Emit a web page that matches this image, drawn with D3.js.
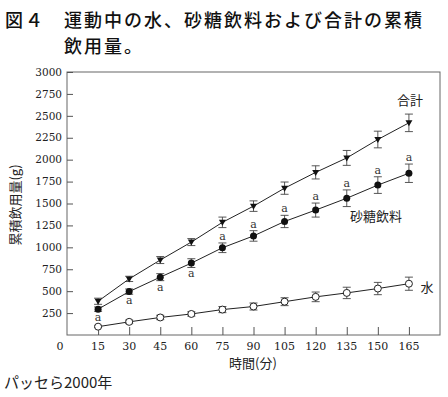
<!DOCTYPE html>
<html lang="ja">
<head>
  <meta charset="UTF-8">
  <title>図4 累積飲用量</title>
  <script src="https://d3js.org/d3.v7.min.js"></script>
  <style>
    body { margin: 0; background: #fff; }
    svg { display: block; }
  </style>
</head>
<body>
  <div id="chart"></div>

  <script>
    // 時間(分)
    const times = [15, 30, 45, 60, 75, 90, 105, 120, 135, 150, 165];

    // 累積飲用量 (g): mean and error bar half-width
    const totalMean  = [385, 640, 855, 1060, 1285, 1470, 1675, 1855, 2020, 2230, 2420];
    const totalErr   = [35, 30, 40, 40, 60, 60, 70, 75, 85, 95, 100];
    const sugarMean  = [295, 495, 660, 820, 995, 1130, 1295, 1425, 1560, 1710, 1845];
    const sugarErr   = [25, 30, 40, 50, 55, 60, 70, 80, 95, 95, 105];
    const waterMean  = [95, 150, 200, 240, 290, 325, 380, 435, 480, 530, 585];
    const waterErr   = [10, 20, 25, 25, 35, 40, 45, 55, 65, 70, 75];

    // "a" 有意差マーク: below the point for early times, above for later
    const markBelow = [true, true, true, true, false, false, false, false, false, false, false];

    const yTicks = [250, 500, 750, 1000, 1250, 1500, 1750, 2000, 2250, 2500, 2750, 3000];
    const xTicks = [0].concat(times);

    const width = 448, height = 397;
    const svg = d3.select('#chart')
      .append('svg')
      .attr('width', width)
      .attr('height', height);

    // Title (18px glyphs spaced out to the reference's 20px pitch)
    const sans = '"Noto Sans CJK JP", "Noto Sans", sans-serif';
    const titleLines = [
      { x: 5, y: 27, text: '図４' },
      { x: 64, y: 27, text: '運動中の水、砂糖飲料および合計の累積' },
      { x: 64, y: 53, text: '飲用量。' }
    ];
    svg.append('g').selectAll('text')
      .data(titleLines)
      .join('text')
      .attr('x', d => d.x).attr('y', d => d.y)
      .attr('font-family', sans)
      .attr('font-size', '18px')
      .attr('letter-spacing', '2px')
      .attr('font-weight', 500)
      .attr('fill', '#111')
      .text(d => d.text);

    // Plot area
    const plotL = 67, plotR = 440, plotT = 72, plotB = 335;
    const x = d3.scaleLinear().domain([0, 180]).range([plotL, plotR]);
    const y = d3.scaleLinear().domain([0, 3000]).range([plotB, plotT]);

    const serif = '"DejaVu Serif", "Liberation Serif", serif';

    // Frame
    svg.append('rect')
      .attr('x', plotL).attr('y', plotT)
      .attr('width', plotR - plotL).attr('height', plotB - plotT)
      .attr('fill', 'none')
      .attr('stroke', '#666')
      .attr('stroke-width', 1);

    // Y axis (ticks point inward)
    const yAxis = svg.append('g')
      .attr('transform', `translate(${plotL},0)`)
      .call(d3.axisRight(y).tickValues(yTicks).tickSize(6).tickFormat(''));
    yAxis.select('.domain').remove();
    yAxis.selectAll('line').attr('stroke', '#555');

    svg.append('g').selectAll('text')
      .data(yTicks)
      .join('text')
      .attr('x', plotL - 5)
      .attr('y', d => y(d))
      .attr('dy', '0.35em')
      .attr('text-anchor', 'end')
      .attr('font-family', serif)
      .attr('font-size', '10.5px')
      .attr('fill', '#222')
      .text(d => d);

    // X axis (ticks point inward)
    const xAxis = svg.append('g')
      .attr('transform', `translate(0,${plotB})`)
      .call(d3.axisTop(x).tickValues(times).tickSize(8).tickFormat(''));
    xAxis.select('.domain').remove();
    xAxis.selectAll('line').attr('stroke', '#555');

    svg.append('g').selectAll('text')
      .data(xTicks)
      .join('text')
      .attr('x', d => d === 0 ? x(d) - 7 : x(d))
      .attr('y', plotB + 15)
      .attr('text-anchor', 'middle')
      .attr('font-family', serif)
      .attr('font-size', '11px')
      .attr('fill', '#222')
      .text(d => d);

    // Axis titles
    svg.append('text')
      .attr('transform', `translate(20,205) rotate(-90)`)
      .attr('text-anchor', 'middle')
      .attr('font-family', sans)
      .attr('font-size', '13px')
      .attr('fill', '#222')
      .text('累積飲用量(g)');

    svg.append('text')
      .attr('x', 253).attr('y', 368)
      .attr('text-anchor', 'middle')
      .attr('font-family', sans)
      .attr('font-size', '13px')
      .attr('fill', '#222')
      .text('時間(分)');

    // Series
    const series = [
      { name: 'total', mean: totalMean, err: totalErr },
      { name: 'sugar', mean: sugarMean, err: sugarErr },
      { name: 'water', mean: waterMean, err: waterErr }
    ];

    const line = d3.line().x(d => x(d.t)).y(d => y(d.v));

    series.forEach(s => {
      const pts = times.map((t, i) => ({ t: t, v: s.mean[i], e: s.err[i], i: i }));
      const g = svg.append('g');

      // error bars
      pts.forEach(p => {
        g.append('line')
          .attr('x1', x(p.t)).attr('x2', x(p.t))
          .attr('y1', y(p.v - p.e)).attr('y2', y(p.v + p.e))
          .attr('stroke', '#444').attr('stroke-width', 0.9);
        [p.v - p.e, p.v + p.e].forEach(v => {
          g.append('line')
            .attr('x1', x(p.t) - 4).attr('x2', x(p.t) + 4)
            .attr('y1', y(v)).attr('y2', y(v))
            .attr('stroke', '#444').attr('stroke-width', 0.9);
        });
      });

      g.append('path')
        .datum(pts)
        .attr('d', line)
        .attr('fill', 'none')
        .attr('stroke', '#222')
        .attr('stroke-width', 1);

      if (s.name === 'total') {
        g.selectAll('path.mark')
          .data(pts)
          .join('path')
          .attr('class', 'mark')
          .attr('transform', p => `translate(${x(p.t)},${y(p.v)})`)
          .attr('d', 'M-3.5,-2.5L3.5,-2.5L0,3.5Z')
          .attr('fill', '#111');
      } else if (s.name === 'sugar') {
        g.selectAll('circle')
          .data(pts)
          .join('circle')
          .attr('cx', p => x(p.t)).attr('cy', p => y(p.v))
          .attr('r', 3.5)
          .attr('fill', '#111');
        g.selectAll('text')
          .data(pts)
          .join('text')
          .attr('x', p => x(p.t))
          .attr('y', p => markBelow[p.i] ? y(p.v - p.e) + 10 : y(p.v + p.e) - 3)
          .attr('text-anchor', 'middle')
          .attr('font-family', serif)
          .attr('font-size', '11px')
          .attr('fill', '#333')
          .text('a');
      } else {
        g.selectAll('circle')
          .data(pts)
          .join('circle')
          .attr('cx', p => x(p.t)).attr('cy', p => y(p.v))
          .attr('r', 3.5)
          .attr('fill', '#fff')
          .attr('stroke', '#222')
          .attr('stroke-width', 1);
      }
    });

    // Series labels
    const seriesLabels = [
      { x: 410, y: 105, text: '合計' },
      { x: 376, y: 221, text: '砂糖飲料' },
      { x: 427, y: 292, text: '水' }
    ];
    svg.append('g').selectAll('text')
      .data(seriesLabels)
      .join('text')
      .attr('x', d => d.x).attr('y', d => d.y)
      .attr('text-anchor', 'middle')
      .attr('font-family', sans)
      .attr('font-size', '13px')
      .attr('fill', '#222')
      .text(d => d.text);

    // Source
    svg.append('text')
      .attr('x', 4).attr('y', 388)
      .attr('font-family', sans)
      .attr('font-size', '15px')
      .attr('fill', '#222')
      .text('パッセら2000年');
  </script>
</body>
</html>
